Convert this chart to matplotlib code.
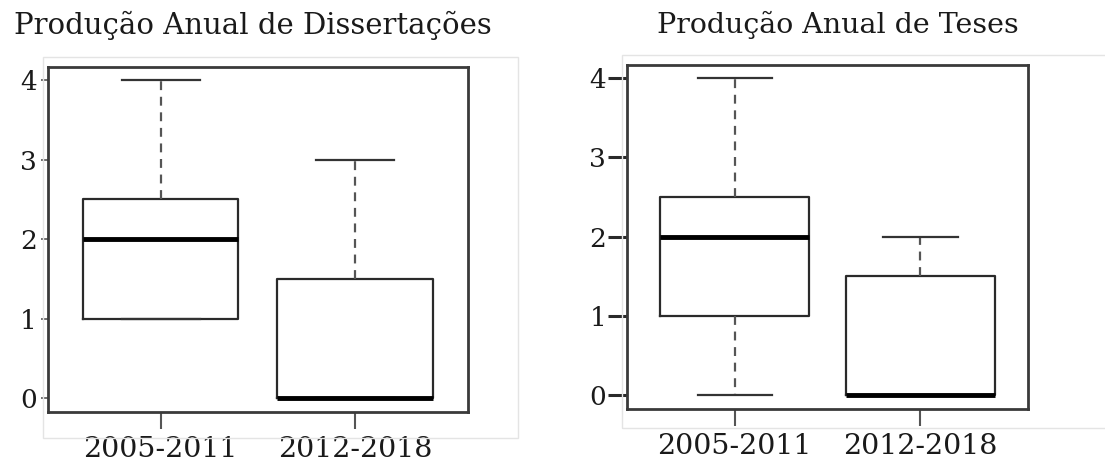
import matplotlib
matplotlib.use('Agg')

import matplotlib.pyplot as plt
from matplotlib.patches import Rectangle

# Data (five-number summaries per period)
periods = ['2005-2011', '2012-2018']

diss_min = [1, 0]
diss_q1 = [1, 0]
diss_med = [2, 0]
diss_q3 = [2.5, 1.5]
diss_max = [4, 3]

tese_min = [0, 0]
tese_q1 = [1, 0]
tese_med = [2, 0]
tese_q3 = [2.5, 1.5]
tese_max = [4, 2]

titles = ['Produção Anual de Dissertações', 'Produção Anual de Teses']
y_ticks = [0, 1, 2, 3, 4]

plt.rcParams['font.family'] = ['DejaVu Serif']


def make_stats(mins, q1s, meds, q3s, maxs):
    stats = []
    for lo, q1, med, q3, hi, lab in zip(mins, q1s, meds, q3s, maxs, periods):
        stats.append({'whislo': lo, 'q1': q1, 'med': med, 'q3': q3,
                      'whishi': hi, 'label': lab, 'fliers': []})
    return stats


def draw_panel(ax, stats, title, title_x, title_size, ytick_style):
    ax.bxp(stats, positions=[1, 2], widths=0.8, showfliers=False,
           boxprops=dict(color='#2a2a2a', linewidth=1.6),
           medianprops=dict(color='black', linewidth=3.5, solid_capstyle='butt'),
           whiskerprops=dict(color='#555555', linewidth=1.6, linestyle=(0, (4, 3))),
           capprops=dict(color='#333333', linewidth=1.6),
           capwidths=0.4)
    ax.set_xlim(0.42, 2.58)
    ax.set_ylim(-0.17, 4.16)
    ax.set_yticks(y_ticks)
    ax.set_yticklabels([str(t) for t in y_ticks])
    ax.set_xticks([1, 2])
    ax.set_xticklabels(periods)
    ax.tick_params(axis='y', labelsize=19, labelcolor='#1a1a1a', **ytick_style)
    ax.tick_params(axis='x', length=12, width=1.5, color='#555555', pad=5,
                   labelsize=20.5, labelcolor='#1a1a1a')
    for sp in ax.spines.values():
        sp.set_color('#3a3a3a')
        sp.set_linewidth(2.0)
    fig.text(title_x, 0.945, title, ha='center', va='center',
             fontsize=title_size, color='#1a1a1a')


fig = plt.figure(figsize=(11.05, 4.61), dpi=100)

ax1 = fig.add_axes([0.0434, 0.1063, 0.380, 0.748])
ax2 = fig.add_axes([0.5674, 0.1128, 0.363, 0.746])

# faint outer frames around each plot region
fig.patches.append(Rectangle((0.039, 0.050), 0.43, 0.826, transform=fig.transFigure,
                             fill=False, edgecolor='#e4e4e4', linewidth=1.0))
fig.patches.append(Rectangle((0.563, 0.072), 0.44, 0.809, transform=fig.transFigure,
                             fill=False, edgecolor='#e4e4e4', linewidth=1.0))

draw_panel(ax1, make_stats(diss_min, diss_q1, diss_med, diss_q3, diss_max),
           titles[0], 0.229, 21,
           dict(length=5, width=1.2, color='#555555', pad=3))
draw_panel(ax2, make_stats(tese_min, tese_q1, tese_med, tese_q3, tese_max),
           titles[1], 0.758, 20.5,
           dict(length=14, width=2.2, color='#2a2a2a', pad=1))

fig.savefig('out.png', dpi=100)
plt.close(fig)
